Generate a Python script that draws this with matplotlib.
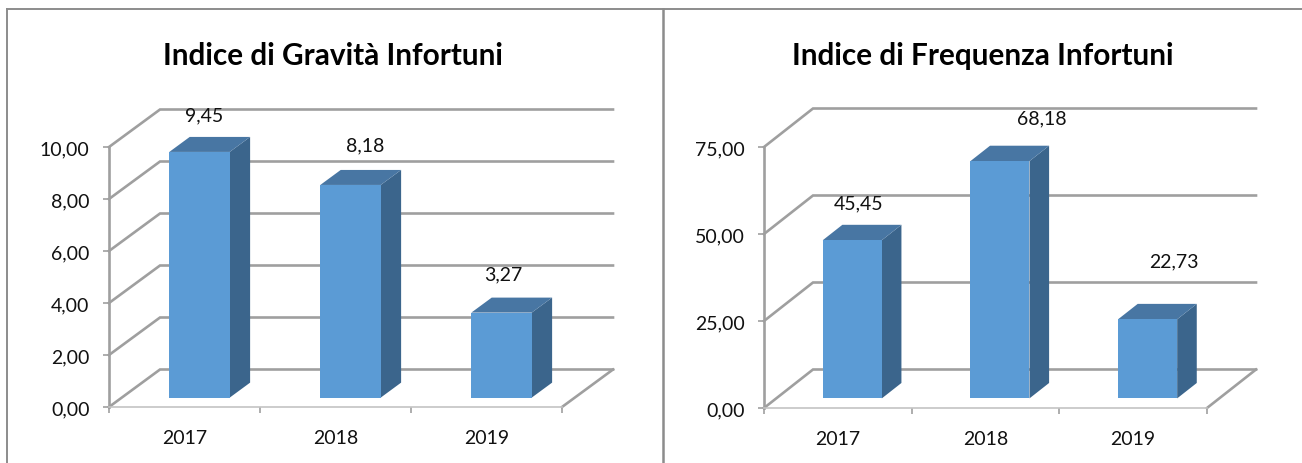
import matplotlib
matplotlib.use("Agg")
import matplotlib.pyplot as plt
from matplotlib.patches import Polygon

plt.rcParams['font.family'] = ['Lato', 'DejaVu Sans']

W = 1302
H = 464

years = ['2017', '2018', '2019']
gravita = [9.45, 8.18, 3.27]
frequenza = [45.45, 68.18, 22.73]
gravita_ticks = [0, 2, 4, 6, 8, 10]
frequenza_ticks = [0, 25, 50, 75]

GRID = '#9f9f9f'
FRONT = '#5b9bd5'
TOP = '#4876a3'
SIDE = '#3b658c'


def fmt(v):
    return ('%.2f' % v).replace('.', ',')


def make_chart(rect, title, title_x, values, ticks, label_off, depth):
    # rect is left, top, right, bottom in pixels of the front plane
    l, t, r, b = rect
    ax = fig.add_axes([l / W, 1 - b / H, (r - l) / W, (b - t) / H])
    ax.set_xlim(0, len(values))
    ax.set_ylim(ticks[0], ticks[-1])
    ax.patch.set_alpha(0)

    # px to data units
    ux = len(values) / (r - l)
    uy = (ticks[-1] - ticks[0]) / (b - t)
    dx = depth[0] * ux
    dy = depth[1] * uy

    # back wall and floor
    for v in ticks:
        ax.plot([0, dx, len(values) + dx], [v, v + dy, v + dy], color=GRID, lw=1.9,
                clip_on=False, solid_joinstyle='miter', zorder=1)
    ax.plot([len(values), len(values) + dx], [0, dy], color=GRID, lw=1.9, clip_on=False, zorder=1)

    # the bars stand in the middle of the floor
    f0 = 0.25
    f1 = 0.65
    w = 0.4
    for i, v in enumerate(values):
        x0 = i + 0.515 - w / 2 + f0 * dx
        x1 = x0 + w
        y0 = f0 * dy
        y1 = y0 + v
        ddx = (f1 - f0) * dx
        ddy = (f1 - f0) * dy
        ax.add_patch(Polygon([(x1, y0), (x1 + ddx, y0 + ddy), (x1 + ddx, y1 + ddy), (x1, y1)],
                             fc=SIDE, ec='none', clip_on=False, zorder=3))
        ax.add_patch(Polygon([(x0, y1), (x1, y1), (x1 + ddx, y1 + ddy), (x0 + ddx, y1 + ddy)],
                             fc=TOP, ec='none', clip_on=False, zorder=3))
        ax.add_patch(Polygon([(x0, y0), (x1, y0), (x1, y1), (x0, y1)],
                             fc=FRONT, ec='none', clip_on=False, zorder=4))
        ax.annotate(fmt(v), (x0 + w / 2, y1), xytext=label_off[i],
                    textcoords='offset pixels', ha='center', va='center', fontsize=14,
                    color='#111111', annotation_clip=False, zorder=5)

    for s in ['top', 'right']:
        ax.spines[s].set_visible(False)
    ax.spines['left'].set_color(GRID)
    ax.spines['left'].set_linewidth(1.9)
    ax.spines['bottom'].set_color('#c4c4c4')
    ax.spines['bottom'].set_linewidth(1.2)

    ax.set_yticks(ticks)
    ax.set_yticklabels([fmt(v) for v in ticks], fontsize=14, color='#111111')
    ax.set_xticks(range(len(values) + 1))
    ax.set_xticklabels([])
    ax.set_xticks([i + 0.5 for i in range(len(values))], minor=True)
    ax.set_xticklabels(years, minor=True, fontsize=14, color='#111111')
    ax.tick_params(axis='y', length=4, width=1.2, color=GRID, pad=10)
    ax.tick_params(axis='x', which='major', length=4, width=1.2, color=GRID)
    ax.tick_params(axis='x', which='minor', length=0, pad=15.5)

    fig.text(title_x / W, 1 - 56 / H, title, fontsize=21.4, fontweight='bold',
             ha='center', va='center', color='black')


fig = plt.figure(figsize=(W / 100, H / 100), dpi=100)

make_chart((109, 148, 562, 408), 'Indice di Gravità Infortuni', 333, gravita, gravita_ticks,
           [(5, 37), (15, 40), (2, 39)], (51, 37.5))
make_chart((764, 148, 1207, 409), 'Indice di Frequenza Infortuni', 983, frequenza, frequenza_ticks,
           [(6, 37), (42, 43), (26, 58)], (49, 38.5))

# frame of the two charts
fig.add_artist(plt.Line2D([7 / W, 7 / W], [0, 1 - 10 / H], color='#8c8c8c', lw=1.4))
fig.add_artist(plt.Line2D([7 / W, 1], [1 - 10 / H, 1 - 10 / H], color='#8c8c8c', lw=1.4))
fig.add_artist(plt.Line2D([663 / W, 663 / W], [0, 1 - 10 / H], color='#8c8c8c', lw=1.8))

fig.savefig('out.png', dpi=100)
